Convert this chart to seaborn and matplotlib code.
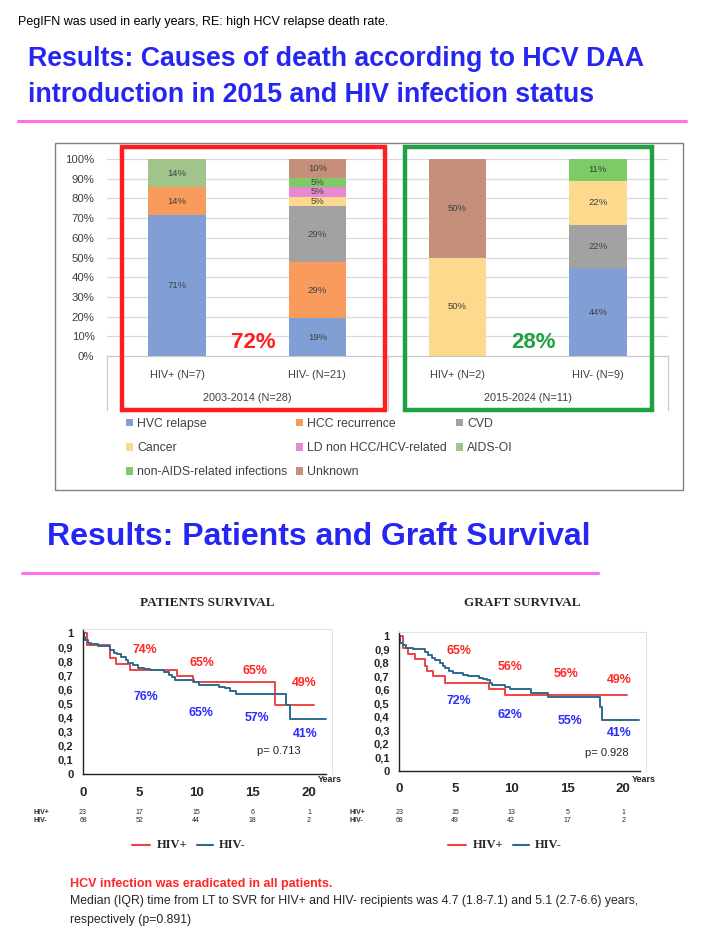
import matplotlib
matplotlib.use("Agg")
import matplotlib.pyplot as plt
import matplotlib.transforms as mtransforms
import pandas as pd
import seaborn as sns
from matplotlib.lines import Line2D
from matplotlib.patches import Patch, Rectangle

# causes of death, bottom to top of each stacked bar
causes = ["HVC relapse", "HCC recurrence", "CVD", "Cancer", "LD non HCC/HCV-related",
          "AIDS-OI", "non-AIDS-related infections", "Unknown"]
cause_colors = ["#819FD5", "#F89B5C", "#A2A2A2", "#FCD98C", "#E889D2",
                "#A0C489", "#7DCB67", "#C58F7C"]
groups = ["HIV+ (N=7)", "HIV- (N=21)", "HIV+ (N=2)", "HIV- (N=9)"]
periods = ["2003-2014 (N=28)", "2015-2024 (N=11)"]
period_share = ["72%", "28%"]
# deaths per cause (same order as causes)
deaths_early_hivpos = [5, 1, 0, 0, 0, 1, 0, 0]
deaths_early_hivneg = [4, 6, 6, 1, 1, 0, 1, 2]
deaths_late_hivpos = [0, 0, 0, 1, 0, 0, 0, 1]
deaths_late_hivneg = [4, 0, 2, 2, 0, 0, 1, 0]

# Kaplan-Meier steps (years, survival)
ps_pos_t = [0, 0.38, 2.4, 2.9, 4.2, 8.3, 9.7, 17.0, 20.4]
ps_pos_s = [1.0, 0.913, 0.826, 0.783, 0.739, 0.695, 0.652, 0.489, 0.489]
ps_neg_t = [0, 0.1, 0.2, 0.4, 0.7, 1.3, 2.4, 2.7, 3.0, 3.4, 3.8, 4.0, 4.4, 4.9, 5.4, 5.9,
            7.2, 7.6, 7.9, 8.1, 9.8, 10.3, 12.0, 12.6, 13.0, 13.5, 18.0, 18.3, 21.5]
ps_neg_s = [1.0, 0.97, 0.95, 0.93, 0.92, 0.91, 0.88, 0.86, 0.85, 0.83, 0.81, 0.79, 0.77,
            0.755, 0.745, 0.735, 0.72, 0.70, 0.685, 0.665, 0.65, 0.63, 0.62, 0.61, 0.59,
            0.57, 0.49, 0.39, 0.39]
gs_pos_t = [0, 0.3, 0.8, 1.4, 2.3, 2.5, 3.0, 4.1, 8.0, 9.4, 20.3]
gs_pos_s = [1.0, 0.91, 0.87, 0.83, 0.78, 0.74, 0.70, 0.65, 0.61, 0.565, 0.565]
gs_neg_t = [0, 0.1, 0.3, 0.6, 1.2, 2.3, 2.6, 2.9, 3.2, 3.6, 3.9, 4.1, 4.4, 4.8, 5.7, 6.1,
            7.1, 7.5, 7.8, 8.1, 8.3, 9.4, 9.9, 11.8, 13.3, 17.9, 18.1, 21.4]
gs_neg_s = [1.0, 0.95, 0.93, 0.91, 0.90, 0.88, 0.86, 0.84, 0.82, 0.80, 0.78, 0.76, 0.74,
            0.725, 0.71, 0.70, 0.69, 0.68, 0.67, 0.65, 0.635, 0.625, 0.605, 0.575, 0.547,
            0.47, 0.375, 0.375]

risk_years = [0, 5, 10, 15, 20]
ps_risk_pos = [23, 17, 15, 6, 1]
ps_risk_neg = [68, 52, 44, 18, 2]
gs_risk_pos = [23, 15, 13, 5, 1]
gs_risk_neg = [68, 49, 42, 17, 2]
ps_pos_labels = ["74%", "65%", "65%", "49%"]
ps_neg_labels = ["76%", "65%", "57%", "41%"]
gs_pos_labels = ["65%", "56%", "56%", "49%"]
gs_neg_labels = ["72%", "62%", "55%", "41%"]
ps_pvalue = "p= 0.713"
gs_pvalue = "p= 0.928"

BLUE_T = "#2626F2"
PINK = "#FF6EF2"
RED_TXT = "#FF2626"
BLUE_TXT = "#2B2BFF"
KM_RED = "#EE4444"
KM_BLUE = "#2F6A8E"
GRAY_TXT = "#404040"

sns.set_style("white")
plt.rcParams["font.family"] = ["Liberation Sans", "DejaVu Sans"]
SERIF = ["Liberation Serif", "DejaVu Serif"]

W, H = 708, 944
fig = plt.figure(figsize=(W / 100, H / 100), dpi=100)


def fx(px):
    return px / W


def fy(py):
    return 1 - py / H


def hline(x0, x1, y, color, lw):
    fig.add_artist(Line2D([fx(x0), fx(x1)], [fy(y), fy(y)], color=color, lw=lw))


# ---- slide header ----
fig.text(fx(18), fy(22), "PegIFN was used in early years, RE: high HCV relapse death rate.",
         fontsize=9, va="center", color="black")
fig.text(fx(28), fy(66), "Results: Causes of death according to HCV DAA",
         fontsize=19.3, weight="bold", color=BLUE_T, va="baseline")
fig.text(fx(28), fy(102), "introduction in 2015 and HIV infection status",
         fontsize=19.3, weight="bold", color=BLUE_T, va="baseline")
hline(18, 686, 121, PINK, 2.2)

# ---- stacked bars ----
fig.add_artist(Rectangle((fx(55), fy(490)), 628 / W, 347 / H, fill=False,
                         ec="#808080", lw=1.0, transform=fig.transFigure))
counts = pd.DataFrame([deaths_early_hivpos, deaths_early_hivneg,
                       deaths_late_hivpos, deaths_late_hivneg], index=groups, columns=causes)
pct = counts.div(counts.sum(axis=1), axis=0) * 100
cum = pct.cumsum(axis=1)

ax = fig.add_axes([fx(107), fy(356), (668 - 107) / W, (356 - 159) / H])
for cause, color in reversed(list(zip(causes, cause_colors))):
    sns.barplot(x=groups, y=cum[cause].values, color=color, saturation=1,
                width=0.41, linewidth=0, ax=ax)
for i, g in enumerate(groups):
    for cause in causes:
        if counts.loc[g, cause] > 0:
            ax.text(i, cum.loc[g, cause] - pct.loc[g, cause] / 2,
                    f"{round(pct.loc[g, cause])}%", ha="center", va="center",
                    fontsize=6.8, color=GRAY_TXT)
ax.set_xlim(-0.5, 3.5)
ax.set_ylim(0, 100)
ax.set_yticks(range(0, 101, 10))
ax.set_yticklabels([f"{v}%" for v in range(0, 101, 10)], fontsize=8.2, color=GRAY_TXT)
ax.set_xticks(range(len(groups)))
ax.set_xticklabels(groups, fontsize=7.8, color=GRAY_TXT)
ax.tick_params(axis="both", length=0)
ax.tick_params(axis="y", pad=9)
ax.tick_params(axis="x", pad=10)
ax.yaxis.grid(True, color="#D9D9D9", lw=0.9)
ax.set_axisbelow(True)
for side in ["top", "right", "left"]:
    ax.spines[side].set_visible(False)
ax.spines["bottom"].set_color("#C8C8C8")
ax.set_xlabel("")
ax.set_ylabel("")

for xp in [107, 387.5, 668]:
    fig.add_artist(Line2D([fx(xp), fx(xp)], [fy(356), fy(410)], color="#C8C8C8", lw=0.8))
for k, label in enumerate(periods):
    xc = (k * 2 + 0.5) * 140.25 + 107 + 70.1
    fig.text(fx(xc), fy(398), label, fontsize=7.8, color=GRAY_TXT, ha="center", va="center")

for (x0, x1), color, share, xs in [((122, 385), "#FF1E1E", period_share[0], 253),
                                   ((405, 652), "#1EA043", period_share[1], 533)]:
    fig.add_artist(Rectangle((fx(x0), fy(410)), (x1 - x0) / W, 263 / H, fill=False,
                             ec=color, lw=3.2, transform=fig.transFigure))
    fig.text(fx(xs), fy(342), share, fontsize=16, weight="bold", color=color,
             ha="center", va="center")

# legend laid out row-wise like the original (matplotlib fills column-wise)
order = [0, 3, 6, 1, 4, 7, 2, 5]
handles = [Patch(facecolor=cause_colors[i], edgecolor="none", label=causes[i]) for i in order]
fig.legend(handles=handles, loc="upper left", bbox_to_anchor=(fx(126), fy(418)), ncol=3,
           frameon=False, fontsize=8.8, labelcolor=GRAY_TXT, handlelength=0.55,
           handleheight=0.55, handletextpad=0.35, columnspacing=0.75, labelspacing=1.0,
           borderpad=0, borderaxespad=0)

# ---- second header ----
fig.text(fx(47), fy(545), "Results: Patients and Graft Survival",
         fontsize=23, weight="bold", color=BLUE_T, va="baseline")
hline(22, 598, 573, PINK, 2.2)


# ---- Kaplan-Meier panels ----
def km_panel(x0, y0, pxyr, pxunit, t_pos, s_pos, t_neg, s_neg, title, risk_pos, risk_neg,
             pos_labels, neg_labels, pos_xy, neg_xy, pvalue, p_xy, leg_x):
    kax = fig.add_axes([fx(x0), fy(y0), 22 * pxyr / W, 1.03 * pxunit / H])
    df = pd.concat([pd.DataFrame({"time": t_pos, "surv": s_pos, "group": "HIV+"}),
                    pd.DataFrame({"time": t_neg, "surv": s_neg, "group": "HIV-"})])
    sns.lineplot(data=df, x="time", y="surv", hue="group", estimator=None, sort=False,
                 palette={"HIV+": KM_RED, "HIV-": KM_BLUE}, drawstyle="steps-post",
                 lw=1.4, legend=False, ax=kax)
    kax.set_xlim(0, 22)
    kax.set_ylim(0, 1.03)
    kax.set_xticks(risk_years)
    kax.set_xticks(range(0, 22), minor=True)
    kax.set_xticklabels([str(v) for v in risk_years], fontsize=9.5, weight="bold")
    ticks = [i / 10 for i in range(11)]
    kax.set_yticks(ticks)
    kax.set_yticklabels(["0", "0,1", "0,2", "0,3", "0,4", "0,5", "0,6", "0,7", "0,8",
                         "0,9", "1"], fontsize=8, weight="bold")
    kax.tick_params(axis="both", which="both", direction="in", length=3, width=0.8,
                    color="#555555")
    kax.tick_params(axis="x", pad=9)
    kax.tick_params(axis="y", pad=7)
    kax.set_xlabel("")
    kax.set_ylabel("")
    for side in ["top", "right"]:
        kax.spines[side].set_color("#E2E2E2")
        kax.spines[side].set_linewidth(0.8)
    for side in ["left", "bottom"]:
        kax.spines[side].set_color("#222222")
        kax.spines[side].set_linewidth(1.0)
    kax.spines["bottom"].set_bounds(0, 21.5)
    for lab, (lx, ly) in zip(pos_labels, pos_xy):
        kax.text(lx, ly, lab, color=RED_TXT, fontsize=8.9, weight="bold",
                 ha="center", va="center")
    for lab, (lx, ly) in zip(neg_labels, neg_xy):
        kax.text(lx, ly, lab, color=BLUE_TXT, fontsize=8.9, weight="bold",
                 ha="center", va="center")
    kax.text(p_xy[0], p_xy[1], pvalue, fontsize=8, color="#222222", ha="center", va="center")

    tr = mtransforms.blended_transform_factory(kax.transData, fig.transFigure)
    kax.text(21.8, fy(779), "Years", transform=tr, fontsize=6.5, weight="bold",
             ha="center", va="center", clip_on=False)
    for yr, n_pos, n_neg in zip(risk_years, risk_pos, risk_neg):
        kax.text(yr, fy(813), str(n_pos), transform=tr, fontsize=5, ha="center",
                 va="center", clip_on=False)
        kax.text(yr, fy(821), str(n_neg), transform=tr, fontsize=5, ha="center",
                 va="center", clip_on=False)
    fig.text(fx(x0 - 50), fy(813), "HIV+", fontsize=5, weight="bold", va="center")
    fig.text(fx(x0 - 50), fy(821), "HIV-", fontsize=5, weight="bold", va="center")

    fig.text(fx(x0 + 11 * pxyr), fy(603), title, family=SERIF, fontsize=9.5,
             weight="bold", ha="center", va="center")
    hline(leg_x, leg_x + 18, 845, KM_RED, 1.5)
    fig.text(fx(leg_x + 25), fy(845), "HIV+", family=SERIF, fontsize=9, weight="bold",
             va="center")
    hline(leg_x + 65, leg_x + 81, 845, KM_BLUE, 1.5)
    fig.text(fx(leg_x + 87), fy(845), "HIV-", family=SERIF, fontsize=9, weight="bold",
             va="center")


km_panel(83, 774, 11.3, 141, ps_pos_t, ps_pos_s, ps_neg_t, ps_neg_s, "PATIENTS SURVIVAL",
         ps_risk_pos, ps_risk_neg, ps_pos_labels, ps_neg_labels,
         [(5.5, 0.88), (10.5, 0.79), (15.2, 0.73), (19.6, 0.645)],
         [(5.6, 0.546), (10.4, 0.43), (15.4, 0.40), (19.7, 0.284)],
         ps_pvalue, (17.3, 0.163), 132)
km_panel(399.3, 770.7, 11.2, 134.7, gs_pos_t, gs_pos_s, gs_neg_t, gs_neg_s, "GRAFT SURVIVAL",
         gs_risk_pos, gs_risk_neg, gs_pos_labels, gs_neg_labels,
         [(5.3, 0.89), (9.9, 0.77), (14.9, 0.72), (19.6, 0.67)],
         [(5.3, 0.52), (9.9, 0.41), (15.2, 0.37), (19.6, 0.28)],
         gs_pvalue, (18.5, 0.13), 448)

# ---- footer ----
fig.text(fx(70), fy(884), "HCV infection was eradicated in all patients.", fontsize=9,
         weight="bold", color=RED_TXT, va="center")
fig.text(fx(70), fy(901), "Median (IQR) time from LT to SVR for HIV+ and HIV- recipients "
         "was 4.7 (1.8-7.1) and 5.1 (2.7-6.6) years,", fontsize=8.85, va="center")
fig.text(fx(70), fy(920), "respectively (p=0.891)", fontsize=8.85, va="center")

fig.savefig("out.png", dpi=100)
